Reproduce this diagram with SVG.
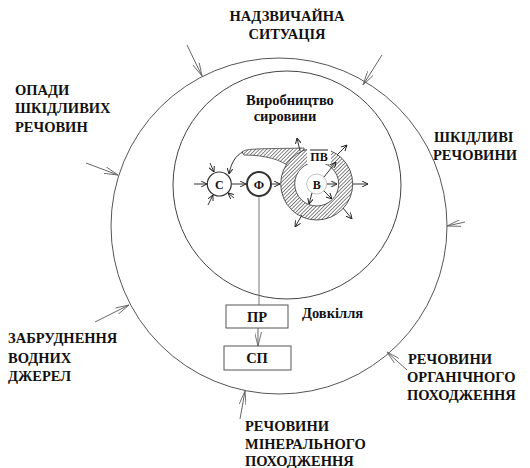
<svg xmlns="http://www.w3.org/2000/svg" width="530" height="468" viewBox="0 0 530 468">
<defs>
<style>
.t{font-family:"Liberation Serif","DejaVu Serif","Times New Roman",serif;font-weight:bold;font-size:14.5px;fill:#111}
.s{font-family:"Liberation Serif","DejaVu Serif","Times New Roman",serif;font-weight:bold;font-size:12px;fill:#111}
.sa{stroke:#333;stroke-width:1;fill:none;marker-end:url(#sm)}
.oa{stroke:#666;stroke-width:1;fill:none;marker-end:url(#om)}
</style>
<marker id="sm" viewBox="0 0 10 10" refX="10" refY="5" markerWidth="6" markerHeight="6" markerUnits="userSpaceOnUse" orient="auto">
<path d="M0,0 L10,5 L0,10" fill="none" stroke="#222" stroke-width="1.6"/>
</marker>
<marker id="om" viewBox="0 0 16 8" refX="16" refY="4" markerWidth="14" markerHeight="7" markerUnits="userSpaceOnUse" orient="auto">
<path d="M0,0 L16,4 L0,8" fill="none" stroke="#666" stroke-width="1"/>
</marker>
<pattern id="h" width="2.6" height="2.6" patternUnits="userSpaceOnUse" patternTransform="rotate(45)">
<rect width="2.6" height="2.6" fill="#fff"/>
<line x1="0" y1="0" x2="0" y2="2.6" stroke="#444" stroke-width="1.3"/>
</pattern>
</defs>
<rect width="530" height="468" fill="#fff"/>

<g id="outer-env">
<circle cx="279" cy="226" r="168" fill="none" stroke="#555" stroke-width="1"/>
</g>
<g id="inner-prod">
<circle cx="287" cy="185" r="114" fill="none" stroke="#444" stroke-width="1"/>
<text class="t" x="290" y="105" text-anchor="middle">Виробництво</text>
<text class="t" x="285" y="121" text-anchor="middle">сировини</text>
</g>

<g id="connectors">
<path class="oa" d="M187,45 L202,76"/>
<path class="oa" d="M382,55 L363,85"/>
<path class="oa" d="M86,163 L118,175"/>
<path class="oa" d="M95,322 L129,305"/>
<path class="oa" d="M240,419 L245,391"/>
<path class="oa" d="M407,370 L387,352"/>
<path class="oa" d="M465,222 L447,226"/>
<path d="M259,196 L259,305" stroke="#777" stroke-width="1" fill="none"/>
<path class="oa" d="M258,328 L258,346"/>
<path d="M242,152 C246,148 262,149 304,148 L306,160 L290,167 C281,160 266,155 244,155 Z" fill="url(#h)" stroke="#444" stroke-width="0.8"/>
<path class="sa" d="M243,152 C236,155 231,163 229,174"/>
<path class="sa" d="M194,184 L207,184"/>
<path class="sa" d="M210,163 L214,172"/>
<path class="sa" d="M208,205 L213,195"/>
<path class="sa" d="M234,198 L228,193"/>
<path class="sa" d="M232,184 L246,184"/>
<path class="sa" d="M272,184 L280,184"/>
</g>

<g id="node-V">
<circle cx="316.7" cy="184" r="29" fill="none" stroke="url(#h)" stroke-width="14"/>
<circle cx="316.7" cy="184" r="36" fill="none" stroke="#333" stroke-width="0.8"/>
<circle cx="316.7" cy="184" r="22" fill="none" stroke="#333" stroke-width="0.8"/>
<circle cx="316.7" cy="184" r="10" fill="#fff" stroke="#999" stroke-width="0.6"/>
<text class="s" x="316.7" y="188.5" text-anchor="middle">В</text>
<path class="sa" d="M324,177 L336,162"/>
<path class="sa" d="M327,184 L337,184"/>
<path class="sa" d="M324,191 L332,199"/>
<path class="sa" d="M312,193 L309,204"/>
<path class="sa" d="M300,151 L297,138"/>
<path class="sa" d="M337,155 L347,145"/>
<path class="sa" d="M353,184 L368,184"/>
<path class="sa" d="M343,208 L352,219"/>
<path class="sa" d="M302,215 L295,227"/>
</g>

<g id="node-PV">
<rect x="307" y="147" width="24" height="17" fill="#fff"/>
<line x1="310" y1="150" x2="328" y2="150" stroke="#222" stroke-width="1"/>
<text class="s" x="319" y="161" text-anchor="middle">ПВ</text>
</g>

<g id="node-S">
<circle cx="219.3" cy="184" r="12" fill="#fff" stroke="#333" stroke-width="1.2"/>
<text class="s" x="219.3" y="188.5" text-anchor="middle">С</text>
</g>
<g id="node-F">
<circle cx="259" cy="184" r="12" fill="#fff" stroke="#333" stroke-width="2"/>
<text class="s" x="259" y="188.5" text-anchor="middle">Ф</text>
</g>

<g id="node-PR">
<rect x="226" y="305" width="62" height="23" fill="#fff" stroke="#555" stroke-width="1"/>
<text class="t" x="257" y="322" text-anchor="middle">ПР</text>
</g>
<g id="node-SP">
<rect x="224" y="346" width="67" height="24" fill="#fff" stroke="#555" stroke-width="1"/>
<text class="t" x="257" y="363" text-anchor="middle">СП</text>
</g>
<g id="label-env">
<text class="t" x="302" y="318">Довкілля</text>
</g>

<g id="labels">
<text class="t" x="287" y="21" text-anchor="middle">НАДЗВИЧАЙНА</text>
<text class="t" x="287" y="39" text-anchor="middle">СИТУАЦІЯ</text>
<text class="t" x="15" y="95">ОПАДИ</text>
<text class="t" x="15" y="113">ШКІДЛИВИХ</text>
<text class="t" x="15" y="132">РЕЧОВИН</text>
<text class="t" x="434" y="142">ШКІДЛИВІ</text>
<text class="t" x="433" y="160">РЕЧОВИНИ</text>
<text class="t" x="8" y="343">ЗАБРУДНЕННЯ</text>
<text class="t" x="8" y="363">ВОДНИХ</text>
<text class="t" x="8" y="381">ДЖЕРЕЛ</text>
<text class="t" x="408" y="364">РЕЧОВИНИ</text>
<text class="t" x="407" y="382">ОРГАНІЧНОГО</text>
<text class="t" x="407" y="400">ПОХОДЖЕННЯ</text>
<text class="t" x="245" y="431">РЕЧОВИНИ</text>
<text class="t" x="245" y="449">МІНЕРАЛЬНОГО</text>
<text class="t" x="245" y="466">ПОХОДЖЕННЯ</text>
</g>
</svg>
